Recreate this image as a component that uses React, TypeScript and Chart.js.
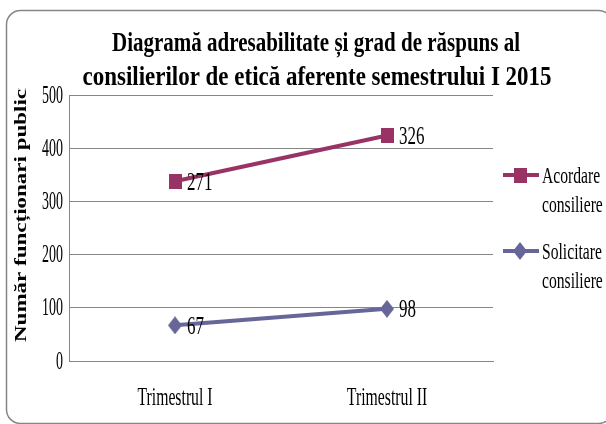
import React, { useEffect, useRef } from "react";
import { Chart, registerables } from "chart.js";

Chart.register(...registerables);

const titleLines = [
  "Diagramă adresabilitate și grad de răspuns al",
  "consilierilor de etică aferente semestrului I 2015",
];
const yAxisTitle = "Număr funcționari publici";
const categories = ["Trimestrul I", "Trimestrul II"];
const acordareLabel = ["Acordare", "consiliere"];
const solicitareLabel = ["Solicitare", "consiliere"];
const acordareValues = [271, 326];
const solicitareValues = [67, 98];
const yTicks = [0, 100, 200, 300, 400, 500];

const ACORDARE_COLOR = "#993366";
const SOLICITARE_COLOR = "#666699";
const GRID = "#868686";
const SERIF = "'Liberation Serif', 'Times New Roman', serif";

function makeMarker(kind: "rect" | "diamond", color: string) {
  const c = document.createElement("canvas");
  const w = kind === "rect" ? 13 : 14;
  const h = kind === "rect" ? 15 : 18;
  c.width = w;
  c.height = h;
  const ctx = c.getContext("2d")!;
  ctx.fillStyle = color;
  if (kind === "rect") {
    ctx.fillRect(0, 0, w, h);
  } else {
    ctx.beginPath();
    ctx.moveTo(w / 2, 0);
    ctx.lineTo(w, h / 2);
    ctx.lineTo(w / 2, h);
    ctx.lineTo(0, h / 2);
    ctx.closePath();
    ctx.fill();
  }
  return c;
}

function drawText(
  ctx: CanvasRenderingContext2D,
  text: string,
  x: number,
  y: number,
  font: string,
  sx: number,
  align: CanvasTextAlign,
  baseline: CanvasTextBaseline,
  color = "#000"
) {
  ctx.save();
  ctx.translate(x, y);
  ctx.scale(sx, 1);
  ctx.font = font;
  ctx.textAlign = align;
  ctx.textBaseline = baseline;
  ctx.fillStyle = color;
  ctx.fillText(text, 0, 0);
  ctx.restore();
}

export default function App() {
  const ref = useRef<HTMLCanvasElement | null>(null);

  useEffect(() => {
    if (!ref.current) return;
    const rectMarker = makeMarker("rect", ACORDARE_COLOR);
    const diamondMarker = makeMarker("diamond", SOLICITARE_COLOR);

    const decor = {
      id: "decor",
      afterDraw(chart: any) {
        const ctx: CanvasRenderingContext2D = chart.ctx;
        const xs = chart.scales.x;
        const ys = chart.scales.y;

        // outer rounded border
        ctx.save();
        ctx.strokeStyle = GRID;
        ctx.lineWidth = 1.5;
        ctx.beginPath();
        (ctx as any).roundRect(6.5, 10.5, 606, 413, 14);
        ctx.stroke();
        ctx.restore();

        // title
        const tFont = `bold 28px ${SERIF}`;
        ctx.save();
        ctx.font = tFont;
        const w1 = ctx.measureText(titleLines[0]).width;
        const w2 = ctx.measureText(titleLines[1]).width;
        ctx.restore();
        drawText(ctx, titleLines[0], 316, 51, tFont, 408 / w1, "center", "alphabetic");
        drawText(ctx, titleLines[1], 317, 85, tFont, 469 / w2, "center", "alphabetic");

        // y axis title (rotated, clipped at top)
        ctx.save();
        ctx.beginPath();
        ctx.rect(0, 88, 60, 330);
        ctx.clip();
        ctx.translate(26, 342);
        ctx.scale(0.72, 1);
        ctx.rotate(-Math.PI / 2);
        ctx.font = `bold 23px ${SERIF}`;
        ctx.textAlign = "left";
        ctx.textBaseline = "alphabetic";
        ctx.fillStyle = "#000";
        ctx.fillText(yAxisTitle, 0, 0);
        ctx.restore();

        // y tick labels
        for (const v of yTicks) {
          drawText(ctx, String(v), 63, ys.getPixelForValue(v) + 1, `25px ${SERIF}`, 0.56, "right", "middle");
        }

        // x labels
        categories.forEach((c, i) => {
          drawText(ctx, c, xs.getPixelForValue(i), 405, `25px ${SERIF}`, 0.63, "center", "alphabetic");
        });

        // data labels
        const sets = [solicitareValues, acordareValues];
        sets.forEach((vals, di) => {
          const meta = chart.getDatasetMeta(di);
          meta.data.forEach((pt: any, j: number) => {
            drawText(ctx, String(vals[j]), pt.x + 12, pt.y + 2, `25px ${SERIF}`, 0.68, "left", "middle");
          });
        });

        // legend
        const entries = [
          { label: acordareLabel, color: ACORDARE_COLOR, marker: rectMarker, y: 175 },
          { label: solicitareLabel, color: SOLICITARE_COLOR, marker: diamondMarker, y: 251 },
        ];
        for (const e of entries) {
          ctx.save();
          ctx.strokeStyle = e.color;
          ctx.lineWidth = 4;
          ctx.beginPath();
          ctx.moveTo(503, e.y);
          ctx.lineTo(539, e.y);
          ctx.stroke();
          ctx.drawImage(e.marker, 520 - e.marker.width / 2, e.y - e.marker.height / 2);
          ctx.restore();
          drawText(ctx, e.label[0], 542, e.y + 8, `23px ${SERIF}`, 0.68, "left", "alphabetic");
          drawText(ctx, e.label[1], 542, e.y + 37, `23px ${SERIF}`, 0.68, "left", "alphabetic");
        }
      },
    };

    const chart = new Chart(ref.current, {
      type: "line",
      data: {
        labels: categories,
        datasets: [
          {
            label: solicitareLabel.join(" "),
            data: solicitareValues,
            borderColor: SOLICITARE_COLOR,
            backgroundColor: SOLICITARE_COLOR,
            borderWidth: 4,
            pointStyle: diamondMarker as any,
            pointRadius: 8,
            fill: false,
            tension: 0,
          },
          {
            label: acordareLabel.join(" "),
            data: acordareValues,
            borderColor: ACORDARE_COLOR,
            backgroundColor: ACORDARE_COLOR,
            borderWidth: 4,
            pointStyle: rectMarker as any,
            pointRadius: 8,
            fill: false,
            tension: 0,
          },
        ],
      },
      options: {
        animation: false,
        responsive: false,
        devicePixelRatio: 1,
        layout: { padding: { left: 69, top: 95, right: 113, bottom: 63 } },
        plugins: {
          legend: { display: false },
          title: { display: false },
          tooltip: { enabled: false },
        },
        scales: {
          x: {
            type: "category",
            offset: true,
            grid: { display: false, drawTicks: false },
            border: { display: true, color: GRID, width: 1 },
            ticks: { display: false },
            afterFit: (s: any) => {
              s.height = 0;
            },
          },
          y: {
            stacked: true,
            min: 0,
            max: 500,
            ticks: { display: false, stepSize: 100 },
            grid: { color: GRID, lineWidth: 1, drawTicks: false },
            border: { display: true, color: GRID, width: 1 },
            afterFit: (s: any) => {
              s.width = 0;
            },
          },
        },
      },
      plugins: [decor],
    });

    return () => chart.destroy();
  }, []);

  return (
    <div style={{ position: "fixed", left: 0, top: 0, width: 606, height: 424, background: "#fff" }}>
      <canvas ref={ref} width={606} height={424} style={{ display: "block" }} />
    </div>
  );
}
